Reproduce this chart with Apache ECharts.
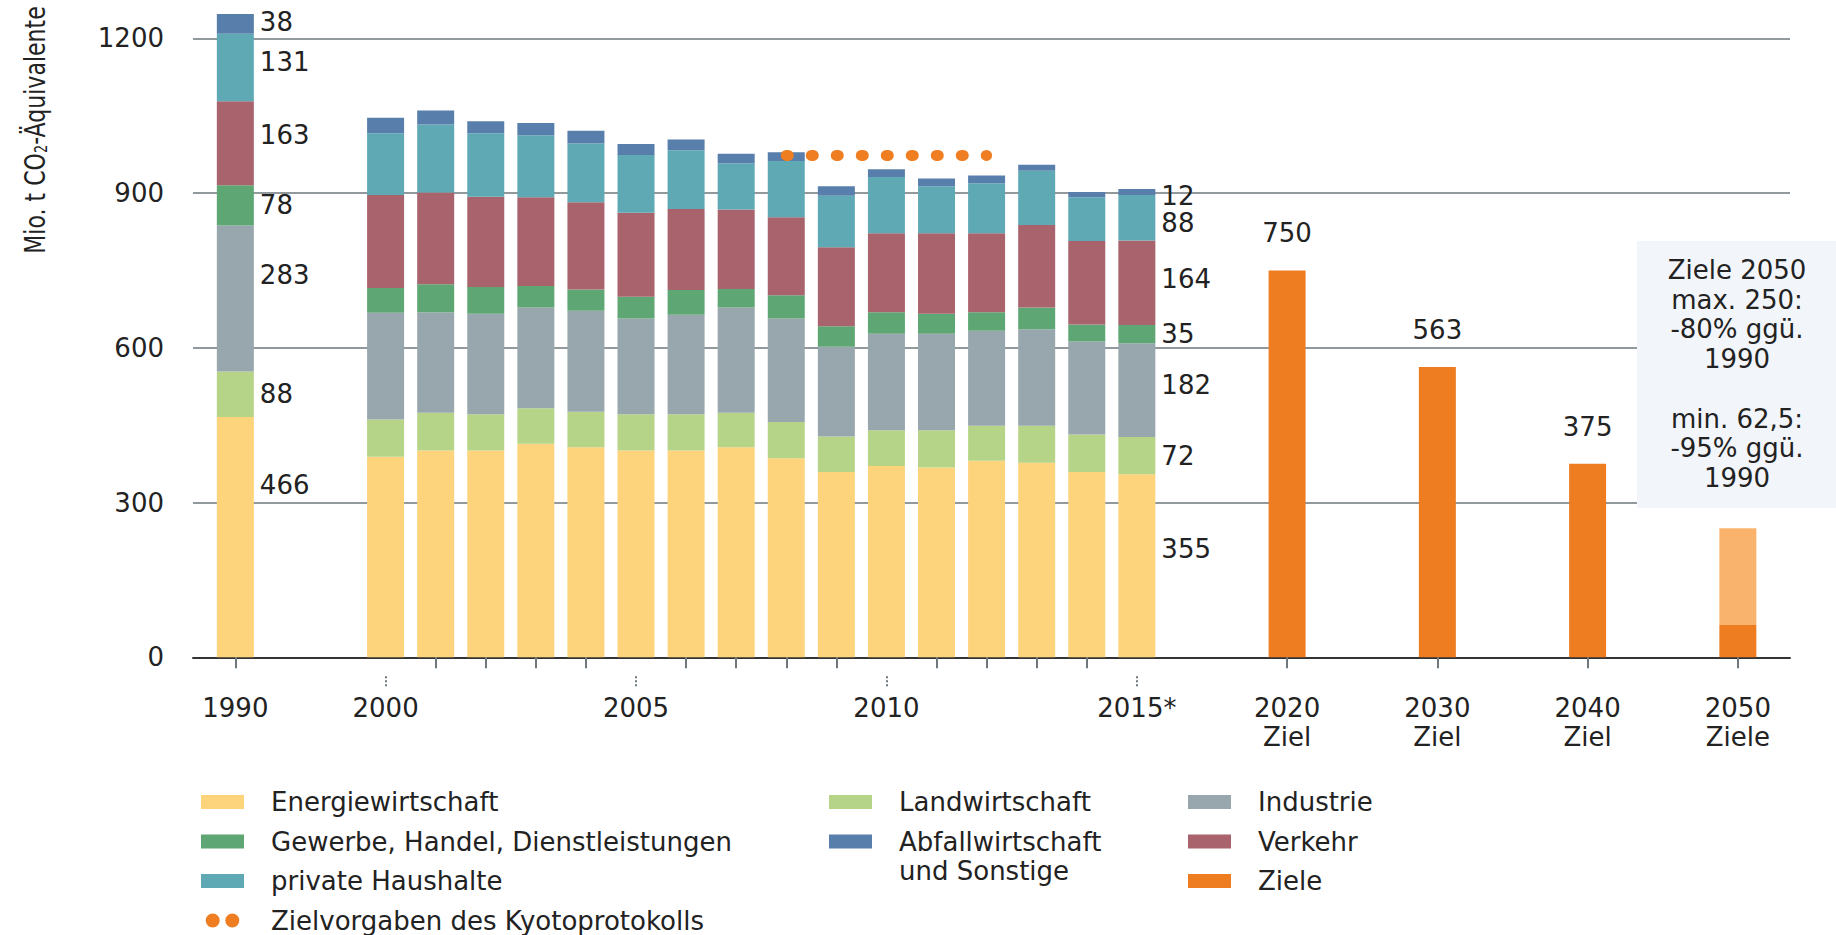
<!DOCTYPE html>
<html>
<head>
<meta charset="utf-8">
<title>Treibhausgasemissionen nach Sektoren</title>
<script src="https://cdn.jsdelivr.net/npm/echarts@6/dist/echarts.min.js"></script>
<style>
    html, body { margin: 0; padding: 0; background: #fff; }
    #chart { width: 1836px; height: 935px; }
</style>
</head>
<body>
<div id="chart"></div>
<script>
// x-Achse: Jahre mit leeren Lückenplätzen dazwischen
const kategorien = ['1990', '', '', '2000', '2001', '2002', '2003', '2004', '2005', '2006', '2007', '2008',
    '2009', '2010', '2011', '2012', '2013', '2014', '2015', '', '', '2020', '', '', '2030', '', '', '2040', '', '', '2050'];
const achsenBeschriftung = ['1990', '', '', '2000', '', '', '', '', '2005', '', '', '', '', '2010', '', '', '', '',
    '2015*', '', '', '2020\nZiel', '', '', '2030\nZiel', '', '', '2040\nZiel', '', '', '2050\nZiele'];
const gepunkteteTicks = ['2000', '2005', '2010', '2015'];

// Emissionen je Sektor in Mio. t CO2-Äquivalente
const jahre = ['1990', '2000', '2001', '2002', '2003', '2004', '2005', '2006', '2007', '2008',
    '2009', '2010', '2011', '2012', '2013', '2014', '2015'];
const energiewirtschaft = [466, 389, 401, 401, 414, 407, 401, 401, 407, 386, 359, 371, 368, 381, 377, 359, 355];
const landwirtschaft = [88, 72, 73, 70, 69, 69, 70, 70, 67, 70, 69, 69, 72, 68, 72, 73, 72];
const industrie = [283, 207, 195, 195, 195, 196, 186, 193, 204, 201, 174, 187, 187, 184, 187, 180, 182];
const gewerbe = [78, 48, 54, 52, 42, 41, 42, 48, 36, 45, 40, 42, 39, 36, 42, 33, 35];
const verkehr = [163, 180, 178, 175, 172, 169, 163, 157, 154, 151, 153, 153, 156, 153, 160, 162, 164];
const haushalte = [131, 120, 132, 123, 120, 114, 112, 114, 90, 109, 100, 109, 91, 97, 105, 85, 88];
const abfall = [38, 30, 27, 23, 24, 25, 21, 21, 18, 17, 18, 15, 15, 15, 12, 10, 12];

// Ziele
const zielJahre = ['2020', '2030', '2040', '2050'];
const zielWerte = [750, 563, 375, 62.5];
const ziel2050Max = 250;

// Kyoto-Zielvorgabe 2008-2012
const kyotoJahre = ['2008', '2009', '2010', '2011', '2012'];
const kyotoWert = 973;

const yTicks = [0, 300, 600, 900, 1200];

const FONT = "'DejaVu Sans', sans-serif";
const TEXT = '#222';

let chart = echarts.init(document.getElementById('chart'), null, { renderer: 'svg' });

// Sektoren von unten nach oben
const sektoren = [
    { name: 'Energiewirtschaft', werte: energiewirtschaft, farbe: '#fdd37b', v1990: -52, v2015: -17 },
    { name: 'Landwirtschaft', werte: landwirtschaft, farbe: '#b6d487', v1990: 0, v2015: 0 },
    { name: 'Industrie', werte: industrie, farbe: '#98a6ad', v1990: -24, v2015: -5 },
    { name: 'Gewerbe, Handel, Dienstleistungen', werte: gewerbe, farbe: '#5ea673', v1990: 0, v2015: 0 },
    { name: 'Verkehr', werte: verkehr, farbe: '#a9636c', v1990: -8, v2015: -4 },
    { name: 'private Haushalte', werte: haushalte, farbe: '#5fa9b5', v1990: -5, v2015: 5 },
    { name: 'Abfallwirtschaft und Sonstige', werte: abfall, farbe: '#587fab', v1990: -2, v2015: 4 },
];

const wertLabel = {
    show: true, position: 'right', distance: 6,
    fontFamily: FONT, fontSize: 26, color: TEXT
};

let series = sektoren.map(s => ({
    name: s.name,
    type: 'bar',
    xAxisIndex: 1, yAxisIndex: 1,
    stack: 'gesamt',
    barWidth: 37,
    clip: false,
    itemStyle: { color: s.farbe },
    data: kategorien.map(k => {
        const i = jahre.indexOf(k);
        if (k === '' || i < 0) return '-';
        if (k === '1990') return { value: s.werte[i], label: Object.assign({}, wertLabel, { offset: [0, s.v1990] }) };
        if (k === '2015') return { value: s.werte[i], label: Object.assign({}, wertLabel, { offset: [0, s.v2015] }) };
        return s.werte[i];
    })
}));

series.push({
    name: 'Ziele',
    type: 'bar',
    xAxisIndex: 1, yAxisIndex: 1,
    stack: 'gesamt',
    barWidth: 37,
    itemStyle: { color: '#ee7d22' },
    label: { show: true, position: 'top', distance: 24, fontFamily: FONT, fontSize: 26, color: TEXT },
    data: kategorien.map(k => {
        const i = zielJahre.indexOf(k);
        if (k === '' || i < 0) return '-';
        if (k === '2050') return { value: zielWerte[i], label: { show: false } };
        return zielWerte[i];
    })
});

series.push({
    name: 'Ziel 2050 Spanne',
    type: 'bar',
    xAxisIndex: 1, yAxisIndex: 1,
    stack: 'gesamt',
    barWidth: 37,
    itemStyle: { color: '#f9b36d' },
    data: kategorien.map(k => k === '2050' ? ziel2050Max - zielWerte[zielJahre.indexOf('2050')] : '-')
});

series.push({
    name: 'Zielvorgaben des Kyotoprotokolls',
    type: 'line',
    xAxisIndex: 1, yAxisIndex: 1,
    symbol: 'none',
    z: 5,
    color: '#ef7d22',
    itemStyle: { color: '#ef7d22' },
    lineStyle: { color: '#ef7d22', width: 11, type: [2, 23], cap: 'round' },
    data: kategorien.map(k => (k !== '' && kyotoJahre.indexOf(k) >= 0) ? kyotoWert : '-')
});

const legendeBasis = {
    orient: 'vertical',
    top: 789,
    height: 146,
    padding: 0,
    itemWidth: 43,
    itemHeight: 14,
    itemGap: 13.5,
    icon: 'rect',
    selectedMode: false,
    textStyle: { fontFamily: FONT, fontSize: 26, color: TEXT, lineHeight: 26, padding: [0, 0, 0, 22] }
};

const gitterFarbe = '#6d777c';

let option = {
    animation: false,
    backgroundColor: '#fff',
    grid: [
        { left: 193, right: 46, top: 38.3, height: 619, outerBoundsMode: 'none' },
        { left: 210.3, right: 73.1, top: 38.3, height: 619, outerBoundsMode: 'none' }
    ],
    xAxis: [
        {
            gridIndex: 0, type: 'value', min: 0, max: 1,
            axisLine: { show: true, lineStyle: { color: '#333', width: 2 } },
            axisTick: { show: false }, axisLabel: { show: false }, splitLine: { show: false }
        },
        {
            gridIndex: 1, type: 'category', data: kategorien, position: 'bottom', offset: 19,
            axisLine: { show: false },
            axisTick: {
                show: true, alignWithLabel: true, length: 11,
                interval: (idx, val) => val !== '' && gepunkteteTicks.indexOf(val) < 0,
                lineStyle: { color: gitterFarbe, width: 2 }
            },
            axisLabel: {
                interval: 0, margin: 17, fontFamily: FONT, fontSize: 26, lineHeight: 29, color: TEXT,
                formatter: (val, idx) => achsenBeschriftung[idx]
            },
            splitLine: { show: false }
        },
        {
            gridIndex: 1, type: 'category', data: kategorien, position: 'bottom', offset: 19,
            axisLine: { show: false },
            axisTick: {
                show: true, alignWithLabel: true, length: 11,
                interval: (idx, val) => gepunkteteTicks.indexOf(val) >= 0,
                lineStyle: { color: gitterFarbe, width: 2, type: [2, 2] }
            },
            axisLabel: { show: false },
            splitLine: { show: false }
        }
    ],
    yAxis: [
        {
            gridIndex: 0, type: 'value', min: 0, max: yTicks[yTicks.length - 1], interval: 300,
            axisLine: { show: false }, axisTick: { show: false },
            axisLabel: { margin: 29, fontFamily: FONT, fontSize: 26, color: TEXT, formatter: v => String(v) },
            splitLine: { show: true, lineStyle: { color: gitterFarbe, width: 1.5 } }
        },
        {
            gridIndex: 1, type: 'value', min: 0, max: yTicks[yTicks.length - 1], interval: 300, show: false
        }
    ],
    legend: [
        Object.assign({}, legendeBasis, {
            left: 201,
            data: ['Energiewirtschaft', 'Gewerbe, Handel, Dienstleistungen', 'private Haushalte',
                {
                    name: 'Zielvorgaben des Kyotoprotokolls',
                    icon: 'path://M0,5a5,5 0 1,0 10,0a5,5 0 1,0 -10,0M14,5a5,5 0 1,0 10,0a5,5 0 1,0 -10,0',
                    itemStyle: { color: '#ef7d22', borderWidth: 0 }
                }]
        }),
        Object.assign({}, legendeBasis, {
            left: 829,
            data: ['Landwirtschaft', 'Abfallwirtschaft und Sonstige'],
            formatter: name => name === 'Abfallwirtschaft und Sonstige' ? 'Abfallwirtschaft' : name
        }),
        Object.assign({}, legendeBasis, {
            left: 1188,
            data: ['Industrie', 'Verkehr', 'Ziele']
        })
    ],
    graphic: [
        {
            type: 'text', x: 35, y: 130, rotation: Math.PI / 2, scaleX: 0.76, z: 10,
            style: {
                text: 'Mio. t CO{s|2}-Äquivalente',
                fontFamily: FONT,
                fontSize: 29, fill: TEXT, align: 'center', verticalAlign: 'middle',
                rich: { s: { fontSize: 17, verticalAlign: 'bottom', lineHeight: 17, fill: TEXT, fontFamily: FONT } }
            }
        },
        {
            type: 'text', left: 899, top: 858, z: 10,
            style: { text: 'und Sonstige', fontFamily: FONT, fontSize: 26, fill: TEXT }
        },
        {
            type: 'rect', z: 10,
            shape: { x: 1637, y: 241, width: 199, height: 267 },
            style: { fill: '#f2f5f9' }
        },
        {
            type: 'text', x: 1737, y: 374, z: 11,
            style: {
                text: 'Ziele 2050\nmax. 250:\n-80% ggü.\n1990\n\nmin. 62,5:\n-95% ggü.\n1990',
                fontFamily: FONT, fontSize: 26, lineHeight: 29.7, fill: TEXT,
                align: 'center', verticalAlign: 'middle'
            }
        }
    ],
    series: series
};

chart.setOption(option);
</script>
</body>
</html>
